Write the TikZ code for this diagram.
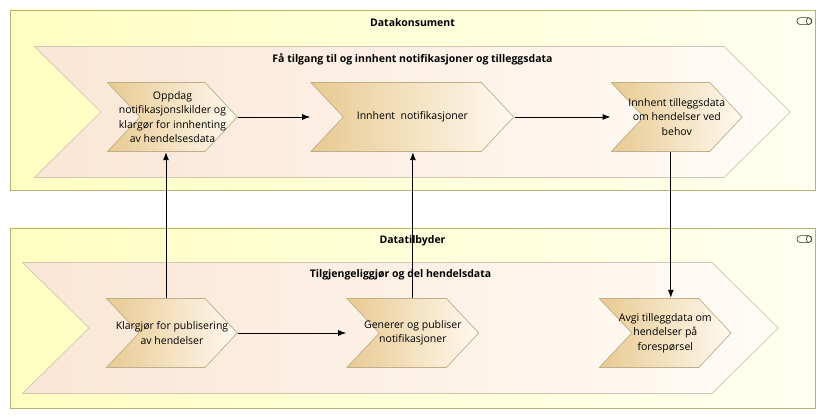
\documentclass[tikz,border=0pt]{standalone}
\usepackage{fontspec}
\setmainfont{Open Sans}
\usetikzlibrary{positioning, arrows.meta}
\definecolor{laneL}{HTML}{FFFFC2}
\definecolor{laneR}{HTML}{FFFFF0}
\definecolor{laneline}{HTML}{B8B272}
\definecolor{stageL}{HTML}{FAE6D6}
\definecolor{stageR}{HTML}{FFFCF6}
\definecolor{stageline}{HTML}{CFC5B0}
\definecolor{taskL}{HTML}{E8CA92}
\definecolor{taskR}{HTML}{FFF9F0}
\definecolor{taskline}{HTML}{BFAE8A}
\tikzset{
    x=1pt, y=-1pt, % one unit per pixel, y running down
    >={Latex[length=8pt,width=6pt]}, % filled arrow heads
    flow/.style={->, draw=black, line width=0.9pt}, % the connectors between the activities
    chevron shape/.style 2 args={path picture={
        \path[#2] ([shift={(.5pt,-.5pt)}]path picture bounding box.north west)
            -- ([shift={(-#1,-.5pt)}]path picture bounding box.north east)
            -- ([xshift=-.7pt]path picture bounding box.east)
            -- ([shift={(-#1,.5pt)}]path picture bounding box.south east)
            -- ([shift={(.5pt,.5pt)}]path picture bounding box.south west)
            -- ([xshift=#1]path picture bounding box.west) -- cycle;}},
    lane/.style={rectangle, draw=laneline, line width=0.8pt, left color=laneL, right color=laneR,
        minimum width=805pt, minimum height=180pt, inner sep=0pt},
    stage/.style={rectangle, minimum width=757pt, minimum height=132pt, inner sep=0pt,
        chevron shape={67pt}{left color=stageL, right color=stageR, draw=stageline, line width=0.7pt}},
    task/.style={rectangle, minimum width=#1, minimum height=70pt, inner sep=0pt, align=center,
        font=\fontsize{10.5}{14.5}\selectfont,
        chevron shape={33pt}{left color=taskL, right color=taskR, draw=taskline, line width=0.7pt}},
    task/.default=132pt,
    title/.style={inner sep=0pt, font=\fontsize{10.5}{13}\selectfont\bfseries},
    roleicon/.style={rectangle, draw=black!80, line width=0.6pt, rounded corners=3.5pt,
        minimum width=15pt, minimum height=7pt, inner sep=0pt,
        path picture={\draw[black!80, line width=0.6pt] ([xshift=-3pt]path picture bounding box.east)
            ellipse [x radius=2.5pt, y radius=3.5pt];}},
}
\begin{document}
\begin{tikzpicture}
    \useasboundingbox (0,0) rectangle (825,419);
    % Datakonsument
    \node[lane] (konsument) at (412.5,100) {};
    \node[roleicon] (konsumentIcon) at ([shift={(-11pt,-11.5pt)}]konsument.north east) {};
    \node[title] (konsumentTitle) at ([yshift=-13pt]konsument.north) {Datakonsument};
    \node[stage] (innhent) at (412.5,112) {};
    \node[title] (innhentTitle) at ([yshift=-14pt]innhent.north) {Få tilgang til og innhent notifikasjoner og tilleggsdata};
    \node[task=131pt] (oppdag) at (172.5,117) {Oppdag\\notifikasjonslkilder og\\klargør for innhenting\\av hendelsesdata};
    \node[task=204pt, right=72pt of oppdag] (notif) {Innhent\ \ notifikasjoner};
    \node[task, right=96pt of notif] (tillegg) {Innhent tilleggsdata\\om hendelser ved\\behov};
    % Datatilbyder
    \node[lane] (tilbyder) at (412.5,318) {};
    \node[roleicon] (tilbyderIcon) at ([shift={(-11pt,-11.5pt)}]tilbyder.north east) {};
    \node[title] (tilbyderTitle) at ([yshift=-13pt]tilbyder.north) {Datatilbyder};
    \node[stage] (del) at (400.5,328) {};
    \node[title] (delTitle) at ([yshift=-13pt]del.north) {Tilgjengeliggjør og del hendelsdata};
    \node[task] (klargjor) at (172,333) {Klargjør for publisering\\av hendelser};
    \node[task=133pt, right=108pt of klargjor] (generer) {Generer og publiser\\notifikasjoner};
    \node[task=133pt, right=119pt of generer] (avgi) {Avgi tilleggdata om\\hendelser på\\forespørsel};
    % connectors
    \draw[flow] (oppdag) -- (notif);
    \draw[flow] (notif) -- (tillegg);
    \draw[flow] (klargjor) -- (generer);
    \draw[flow] ([xshift=-6pt]klargjor.north) -- ([xshift=-6pt]klargjor.north |- oppdag.south);
    \draw[flow] (generer.north) -- (generer.north |- notif.south);
    \draw[flow] ([xshift=-6pt]tillegg.south) -- ([xshift=-6pt]tillegg.south |- avgi.north);
\end{tikzpicture}
\end{document}
